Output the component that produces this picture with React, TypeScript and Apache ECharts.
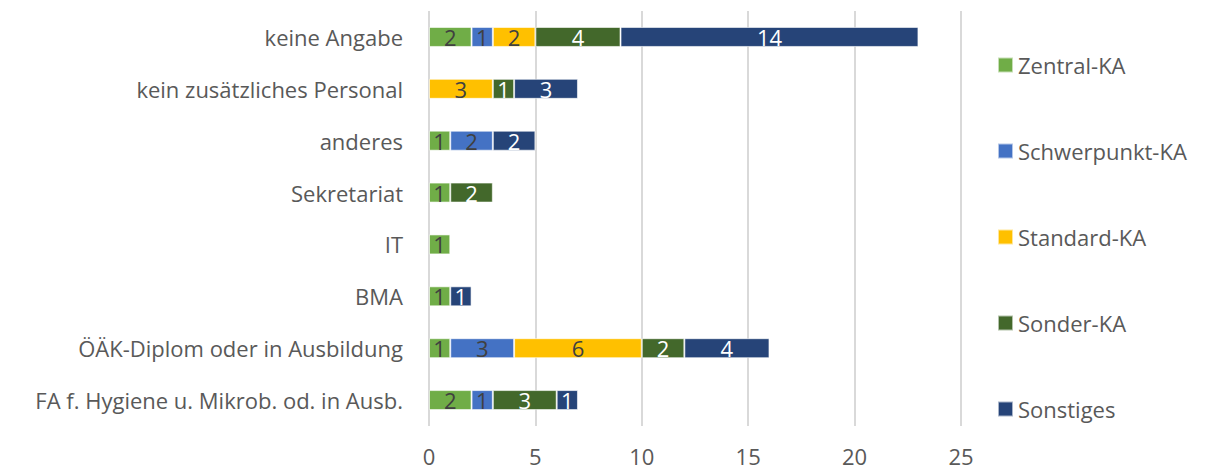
import React, { useEffect, useRef } from "react";
import * as echarts from "echarts";

const categories = [
  "FA f. Hygiene u. Mikrob. od. in Ausb.",
  "ÖÄK-Diplom oder in Ausbildung",
  "BMA",
  "IT",
  "Sekretariat",
  "anderes",
  "kein zusätzliches Personal",
  "keine Angabe",
];

const zentral = [2, 1, 1, 1, 1, 1, null, 2];
const schwerpunkt = [1, 3, null, null, null, 2, null, 1];
const standard = [null, 6, null, null, null, null, 3, 2];
const sonder = [3, 2, null, null, 2, null, 1, 4];
const sonstiges = [1, 4, 1, null, null, 2, 3, 14];

const xTicks = { min: 0, max: 25, interval: 5 };

const seriesDefs = [
  { name: "Zentral-KA", data: zentral, color: "#70AD47", label: "#404040" },
  { name: "Schwerpunkt-KA", data: schwerpunkt, color: "#4472C4", label: "#404040" },
  { name: "Standard-KA", data: standard, color: "#FFC000", label: "#404040" },
  { name: "Sonder-KA", data: sonder, color: "#43682B", label: "#FFFFFF" },
  { name: "Sonstiges", data: sonstiges, color: "#264478", label: "#FFFFFF" },
];

const FONT = "'Open Sans', sans-serif";
const FS = 22;

export default function App() {
  const ref = useRef<HTMLDivElement>(null);
  useEffect(() => {
    if (!ref.current) return;
    const chart = echarts.init(ref.current, null, { renderer: "svg" });
    chart.setOption({
      animation: false,
      textStyle: { fontFamily: FONT },
      grid: { left: 429, right: 246, top: 11, bottom: 44, containLabel: false },
      legend: {
        orient: "vertical",
        left: 992,
        top: 49,
        itemWidth: 15,
        itemHeight: 15,
        itemGap: 64,
        icon: "rect",
        textStyle: { fontSize: FS, color: "#595959", fontFamily: FONT },
        data: seriesDefs.map((s) => s.name),
      },
      xAxis: {
        type: "value",
        min: xTicks.min,
        max: xTicks.max,
        interval: xTicks.interval,
        axisLine: { show: false },
        axisTick: { show: false },
        axisLabel: { fontSize: FS, lineHeight: 20, color: "#595959", margin: 20, fontFamily: FONT },
        splitLine: { show: true, lineStyle: { color: "#D9D9D9", width: 2 } },
      },
      yAxis: {
        type: "category",
        data: categories,
        axisLine: { show: false },
        axisTick: { show: false },
        axisLabel: { fontSize: FS, color: "#595959", margin: 26, fontFamily: FONT },
        splitLine: { show: false },
      },
      series: seriesDefs.map((s) => ({
        name: s.name,
        type: "bar",
        stack: "total",
        barWidth: 20,
        data: s.data,
        itemStyle: { color: s.color, borderColor: "rgba(255,255,255,0.6)", borderWidth: 1 },
        label: {
          show: true,
          position: "inside",
          fontSize: FS,
          color: s.label,
          fontFamily: FONT,
          formatter: (p: any) => (p.value == null ? "" : String(p.value)),
        },
      })),
    });
    return () => chart.dispose();
  }, []);
  return <div ref={ref} style={{ width: 1207, height: 470, position: "absolute", left: 0, top: 0 }} />;
}
